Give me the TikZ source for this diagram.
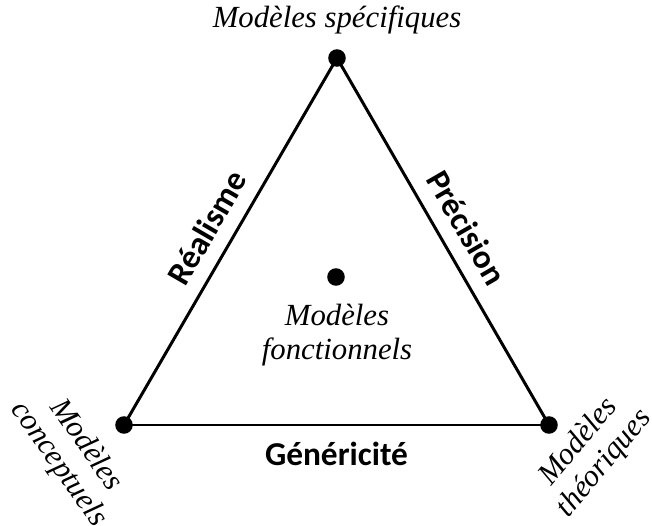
\documentclass[tikz,border=0pt]{standalone}
\usepackage{fontspec}
\setmainfont{Liberation Serif}
\newfontfamily\critfont{Carlito}
\usetikzlibrary{positioning,calc}

\begin{document}
\begin{tikzpicture}[x=0.02cm, y=-0.02cm,
    dot/.style={circle, fill=black, inner sep=0pt, minimum size=10pt},
    edge/.style={line width=1.7pt},
    crit/.style={font=\critfont\bfseries\fontsize{19}{22}\selectfont, inner sep=0pt},
    model/.style={font=\itshape\fontsize{17.5}{19}\selectfont, align=center, inner sep=0pt}]
    \useasboundingbox (0,0) rectangle (652,526);

    % Vertices
    \node[dot] (spec) at (337,58) {};
    \node[dot] (conc) at (124,425) {};
    \node[dot] (theo) at (549,425) {};
    \node[dot] (fonc) at (336,277) {};

    % Triangle
    \draw[edge] (conc.center) -- node[crit, sloped, above=8pt] {Réalisme} (spec.center);
    \draw[edge] (spec.center) -- node[crit, sloped, above=8pt] {Précision} (theo.center);
    \draw[edge] (conc.center) -- node[crit, below=9pt] {Généricité} (theo.center);

    % Models
    \node[model] (specl) at (337,20) {Modèles spécifiques};
    \node[model] (foncl) at (337,335) {Modèles\\fonctionnels};
    \node[model, rotate=-55] (concl) at (72,455) {Modèles\\conceptuels};
    \node[model, rotate=50] (theol) at (592,453) {Modèles\\théoriques};
\end{tikzpicture}
\end{document}
